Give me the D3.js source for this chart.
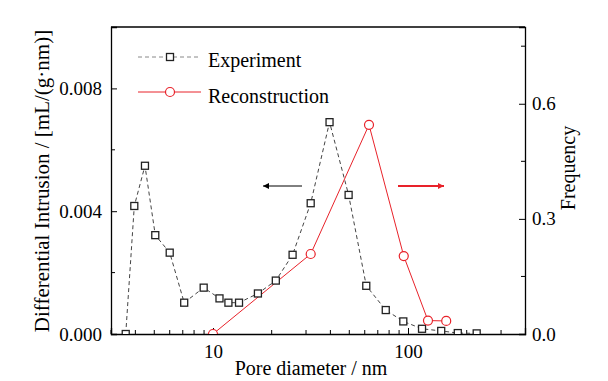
<!DOCTYPE html>
<html><head><meta charset="utf-8">
<script src="https://cdn.jsdelivr.net/npm/d3@7"></script>
<style>
body{margin:0;background:#fff;}
text{font-family:"Liberation Serif","Times New Roman",serif;fill:#000;}
</style></head>
<body><svg id="c" width="608" height="381"></svg>
<script>
const expDiameter = [3.57,3.95,4.48,5.06,6.0,7.12,8.96,10.8,12.0,13.6,17.0,21.0,25.6,31.7,39.6,49.6,61.1,76.9,94.6,118,148,180,225];
const expIntrusion = [0,0.00417,0.00548,0.00322,0.00265,0.00102,0.00151,0.00116,0.00102,0.00102,0.00132,0.00174,0.00258,0.00426,0.0069,0.00453,0.00157,0.00078,0.00041,0.00017,0.0001,0.00003,0.00002];
const recDiameter = [10,31.7,63.1,95.1,126.6,157];
const recFrequency = [0,0.2085,0.545,0.203,0.035,0.034];
const leftTicks = [0,0.004,0.008];
const leftTickLabels = ["0.000","0.004","0.008"];
const rightTicks = [0,0.3,0.6];
const rightTickLabels = ["0.0","0.3","0.6"];
const xTicks = [10,100];
const xTickLabels = ["10","100"];
const legendLabels = ["Experiment","Reconstruction"];

const svg = d3.select("#c");
const L=111, R=525, T=27, B=334;
const x = d3.scaleLog().domain([3.0,398]).range([L,R]);
const yL = d3.scaleLinear().domain([0,0.010]).range([B,T]);
const yR = d3.scaleLinear().domain([0,0.8]).range([B,T]);
const red = "#e8222a";

svg.append("defs").append("clipPath").attr("id","clip")
  .append("rect").attr("x",L).attr("y",T).attr("width",R-L).attr("height",B-T);

// Axes with inward ticks
const gx = svg.append("g").attr("transform",`translate(0,${B})`);
const xAxis = d3.axisBottom(x).tickValues(xTicks).tickSize(-6).tickFormat((d,i)=>xTickLabels[i]).tickPadding(11);
gx.call(xAxis);
const minorX = [];
[1,10,100].forEach(dec=>{for(let k=2;k<=9;k++){const v=dec*k; if(v>=3 && v<=398) minorX.push(v);}});
gx.selectAll(".mx").data(minorX).enter().append("line").attr("x1",d=>x(d)).attr("x2",d=>x(d)).attr("y1",0).attr("y2",-4).attr("stroke","#000");

const gl = svg.append("g").attr("transform",`translate(${L},0)`);
gl.call(d3.axisLeft(yL).tickValues(leftTicks).tickSize(-6).tickFormat((d,i)=>leftTickLabels[i]).tickPadding(9));
gl.selectAll(".my").data([0.002,0.006]).enter().append("line").attr("x1",0).attr("x2",4).attr("y1",d=>yL(d)).attr("y2",d=>yL(d)).attr("stroke","#000");

const gr = svg.append("g").attr("transform",`translate(${R},0)`);
gr.call(d3.axisRight(yR).tickValues(rightTicks).tickSize(-6).tickFormat((d,i)=>rightTickLabels[i]).tickPadding(7));
gr.selectAll(".my").data([0.15,0.45,0.75]).enter().append("line").attr("x1",0).attr("x2",-4).attr("y1",d=>yR(d)).attr("y2",d=>yR(d)).attr("stroke","#000");

// top border
svg.append("line").attr("x1",L).attr("x2",R).attr("y1",T).attr("y2",T).attr("stroke","#000").attr("stroke-width",1.3);

svg.selectAll(".domain").attr("stroke","#000").attr("stroke-width",1.3);
svg.selectAll(".tick line").attr("stroke","#000");
svg.selectAll(".tick text").attr("font-size","19px").attr("font-family","Liberation Serif");

// Data
const plot = svg.append("g").attr("clip-path","url(#clip)");
const expData = expDiameter.map((d,i)=>[d,expIntrusion[i]]);
const recData = recDiameter.map((d,i)=>[d,recFrequency[i]]);
plot.append("path").datum(expData).attr("fill","none").attr("stroke","#444").attr("stroke-width",1).attr("stroke-dasharray","4,3")
  .attr("d",d3.line().x(d=>x(d[0])).y(d=>yL(d[1])));
plot.append("path").datum(recData).attr("fill","none").attr("stroke",red).attr("stroke-width",1)
  .attr("d",d3.line().x(d=>x(d[0])).y(d=>yR(d[1])));
plot.selectAll(".sq").data(expData).enter().append("rect")
  .attr("x",d=>x(d[0])-3.5).attr("y",d=>yL(d[1])-3.5).attr("width",7).attr("height",7)
  .attr("fill","#fff").attr("stroke","#222").attr("stroke-width",1.3);
plot.selectAll(".ci").data(recData).enter().append("circle")
  .attr("cx",d=>x(d[0])).attr("cy",d=>yR(d[1])).attr("r",4.5)
  .attr("fill","#fff").attr("stroke",red).attr("stroke-width",1.2);

// Arrows
const defs = svg.select("defs");
defs.append("marker").attr("id","ahB").attr("viewBox","0 0 10 10").attr("refX",10).attr("refY",5)
  .attr("markerWidth",8).attr("markerHeight",6).attr("markerUnits","userSpaceOnUse").attr("orient","auto")
  .append("path").attr("d","M0,0L10,5L0,10Z").attr("fill","#000");
defs.append("marker").attr("id","ahR").attr("viewBox","0 0 10 10").attr("refX",10).attr("refY",5)
  .attr("markerWidth",8).attr("markerHeight",6).attr("markerUnits","userSpaceOnUse").attr("orient","auto")
  .append("path").attr("d","M0,0L10,5L0,10Z").attr("fill",red);
svg.append("line").attr("x1",302).attr("x2",263).attr("y1",186).attr("y2",186).attr("stroke","#000").attr("stroke-width",1).attr("marker-end","url(#ahB)");
svg.append("line").attr("x1",398).attr("x2",444).attr("y1",186).attr("y2",186).attr("stroke",red).attr("stroke-width",2).attr("marker-end","url(#ahR)");

// Legend
const lg = svg.append("g");
lg.append("line").attr("x1",138).attr("x2",201).attr("y1",57).attr("y2",57).attr("stroke","#888").attr("stroke-dasharray","4,3");
lg.append("rect").attr("x",166.5).attr("y",53.5).attr("width",7).attr("height",7).attr("fill","#fff").attr("stroke","#222").attr("stroke-width",1.3);
lg.append("text").attr("x",208).attr("y",67).attr("font-size","20px").text(legendLabels[0]);
lg.append("line").attr("x1",138).attr("x2",201).attr("y1",92).attr("y2",92).attr("stroke",red);
lg.append("circle").attr("cx",170).attr("cy",92).attr("r",4.5).attr("fill","#fff").attr("stroke",red).attr("stroke-width",1.2);
lg.append("text").attr("x",208).attr("y",103).attr("font-size","20px").text(legendLabels[1]);

// Axis titles
svg.append("text").attr("x",311).attr("y",375).attr("text-anchor","middle").attr("font-size","20px").text("Pore diameter / nm");
svg.append("text").attr("transform","translate(49,181) rotate(-90)").attr("text-anchor","middle").attr("font-size","21px").text("Differential Intrusion / [mL/(g·nm)]");
svg.append("text").attr("transform","translate(575,168) rotate(-90)").attr("text-anchor","middle").attr("font-size","20px").text("Frequency");
</script></body></html>
